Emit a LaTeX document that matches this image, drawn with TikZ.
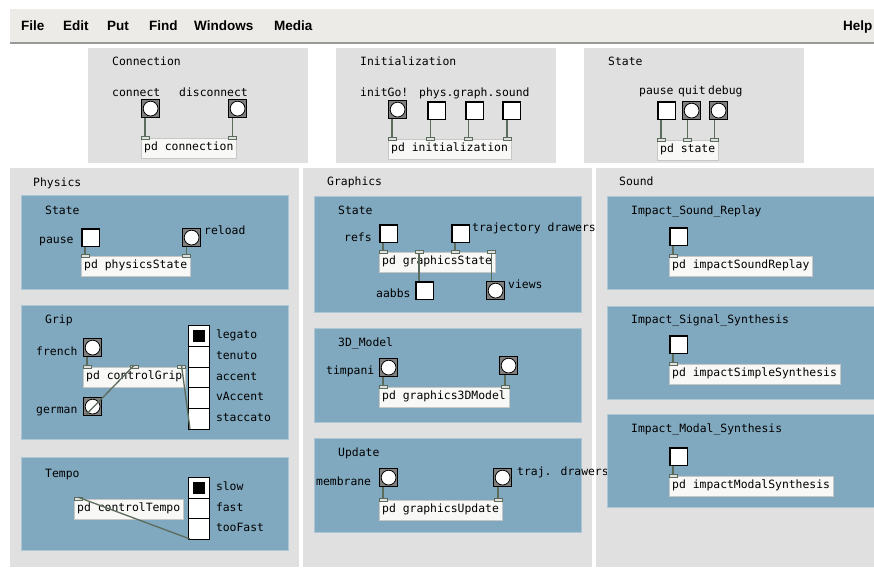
\documentclass[tikz,border=0pt]{standalone}
\usepackage{fontspec}
\usepackage{tikz}
\usetikzlibrary{positioning, calc}
\newfontfamily\pdmono{DejaVu Sans Mono}
\newfontfamily\pdmenu{Liberation Sans}
\definecolor{pd_menu}{RGB}{237,235,231}
\definecolor{pd_panel}{RGB}{224,224,224}
\definecolor{pd_blue}{RGB}{128,168,190}
\definecolor{pd_wire}{RGB}{92,108,92}
\definecolor{pd_box}{RGB}{248,248,246}
\tikzset{
  pdtext/.style={font=\pdmono\fontsize{11.4}{13}\selectfont},
  lbl/.style={pdtext,inner sep=0pt,anchor=base west},
  rlbl/.style={lbl,text height=1.5ex,text depth=.25ex},
  menu/.style={font=\pdmenu\bfseries\fontsize{13.5}{15}\selectfont,inner sep=0pt,anchor=base west},
  canvas/.style={fill=pd_panel},
  subpatch/.style={fill=pd_blue,draw=pd_blue!65!white,line width=.6pt},
  pdobj/.style={pdtext,draw=black!22,fill=pd_box,anchor=north west,inner xsep=3pt,inner ysep=0pt,minimum height=20pt,text height=1.5ex,text depth=.3ex},
  bng/.style={rectangle,anchor=north west,minimum size=18pt,inner sep=0pt,draw=black,line width=1.2pt,fill=black!50,
    path picture={\draw[fill=white,line width=.8pt] (path picture bounding box.center) circle (7.4pt);}},
  tgl/.style={rectangle,anchor=north west,minimum size=18pt,inner sep=0pt,draw=black,line width=.8pt,fill=white,
    path picture={\draw[line width=3.5pt] (path picture bounding box.south west) -- (path picture bounding box.north west) -- (path picture bounding box.north east);}},
  vradio/.style={rectangle,anchor=north west,minimum width=21pt,minimum height=20.8pt,inner sep=0pt,draw=black,line width=.8pt,fill=white},
  radiodot/.style={rectangle,fill=black,minimum size=12pt,inner sep=0pt},
  inlet/.style={rectangle,draw=pd_wire,fill=black!12,minimum width=8pt,minimum height=3pt,inner sep=0pt,line width=.6pt},
  wire/.style={draw=pd_wire,line width=1.3pt},
}
\newcommand{\pdinlets}[2]{%
  \coordinate (#1-l) at ($(#1.north west)+(4pt,0)$);
  \coordinate (#1-r) at ($(#1.north east)+(-4pt,0)$);
  \foreach \k in {1,...,#2}{
    \pgfmathsetmacro{\f}{(\k-1)/max(#2-1,1)}
    \node[inlet] (#1-\k) at ($(#1-l)!\f!(#1-r)$) {};
  }
}

\begin{document}
\begin{tikzpicture}[x=1pt,y=-1pt]
	\useasboundingbox (0,0) rectangle (874,567);
	% menu bar
	\fill[pd_menu] (10,9) rectangle (874,42);
	\draw[black!40,line width=2pt] (10,43) -- (874,43);
	\node[menu] (FILE) at (21,31) {File};
	\node[menu] (EDIT) at (63,31) {Edit};
	\node[menu] (PUT) at (107,31) {Put};
	\node[menu] (FIND) at (149,31) {Find};
	\node[menu] (WINDOWS) at (194,31) {Windows};
	\node[menu] (MEDIA) at (274,31) {Media};
	\node[menu] (HELP) at (843,31) {Help};

	\fill[canvas] (88,48) rectangle (308,163);
	\fill[canvas] (336,48) rectangle (556,163);
	\fill[canvas] (584,48) rectangle (804,163);
	\fill[canvas] (10,168) rectangle (299,567);
	\fill[canvas] (303,168) rectangle (592,567);
	\fill[canvas] (596,168) rectangle (874,567);

	% top row
	\node[lbl] (T_CONN) at (112,66) {Connection};
	\node[lbl] (L_CONNECT) at (112,96) {connect};
	\node[lbl] (L_DISCONNECT) at (179,96) {disconnect};
	\node[bng] (CONNECT) at (141,99) {};
	\node[bng] (DISCONNECT) at (228,99) {};
	\node[pdobj] (CONNECTION) at (141,138) {pd connection};
	\pdinlets{CONNECTION}{2}
	\draw[wire] (CONNECTION-1.north) -- (CONNECTION-1 |- CONNECT.south);
	\draw[wire] (CONNECTION-2.north) -- (CONNECTION-2 |- DISCONNECT.south);

	\node[lbl] (T_INIT) at (360,66) {Initialization};
	\node[lbl] (L_INITGO) at (360,96) {initGo!};
	\node[lbl] (L_PHYS) at (419,96) {phys.};
	\node[lbl] (L_GRAPH) at (453,96) {graph.};
	\node[lbl] (L_SOUND) at (495,96) {sound};
	\node[bng] (INITGO) at (388,100) {};
	\node[tgl] (PHYS) at (427,101) {};
	\node[tgl] (GRAPH) at (465,101) {};
	\node[tgl] (SOUND) at (502,101) {};
	\node[pdobj] (INITIALIZATION) at (388,139) {pd initialization};
	\pdinlets{INITIALIZATION}{4}
	\draw[wire] (INITIALIZATION-1.north) -- (INITIALIZATION-1 |- INITGO.south);
	\draw[wire] (INITIALIZATION-2.north) -- (INITIALIZATION-2 |- PHYS.south);
	\draw[wire] (INITIALIZATION-3.north) -- (INITIALIZATION-3 |- GRAPH.south);
	\draw[wire] (INITIALIZATION-4.north) -- (INITIALIZATION-4 |- SOUND.south);

	\node[lbl] (T_STATE) at (608,66) {State};
	\node[lbl] (L_PAUSE) at (639,95) {pause};
	\node[lbl] (L_QUIT) at (678,95) {quit};
	\node[lbl] (L_DEBUG) at (708,95) {debug};
	\node[tgl] (PAUSE) at (657,101) {};
	\node[bng] (QUIT) at (682,101) {};
	\node[bng] (DEBUG) at (709,101) {};
	\node[pdobj] (STATE) at (657,140) {pd state};
	\pdinlets{STATE}{3}
	\draw[wire] (STATE-1.north) -- (STATE-1 |- PAUSE.south);
	\draw[wire] (STATE-2.north) -- (STATE-2 |- QUIT.south);
	\draw[wire] (STATE-3.north) -- (STATE-3 |- DEBUG.south);

	% physics
	\node[lbl] (T_PHYSICS) at (33,186) {Physics};
	\draw[subpatch] (21,195) rectangle (288,289);
	\draw[subpatch] (21,305) rectangle (288,439);
	\draw[subpatch] (21,457) rectangle (288,550);

	\node[lbl] (T_PSTATE) at (45,214) {State};
	\node[lbl] (L_PPAUSE) at (39,243) {pause};
	\node[tgl] (PPAUSE) at (81,228) {};
	\node[bng] (RELOAD) at (182,228) {};
	\node[lbl] (L_RELOAD) at (204,234) {reload};
	\node[pdobj] (PHYSSTATE) at (81,256) {pd physicsState};
	\pdinlets{PHYSSTATE}{2}
	\draw[wire] (PHYSSTATE-1.north) -- (PHYSSTATE-1 |- PPAUSE.south);
	\draw[wire] (PHYSSTATE-2.north) -- (PHYSSTATE-2 |- RELOAD.south);

	\node[lbl] (T_GRIP) at (45,323) {Grip};
	\node[lbl] (L_FRENCH) at (36,355) {french};
	\node[bng] (FRENCH) at (83,338) {};
	\node[lbl] (L_GERMAN) at (36,413) {german};
	\node[bng] (GERMAN) at (83,397) {};
	\node[pdobj] (GRIP) at (83,367) {pd controlGrip};
	\foreach \s [count=\i] in {legato,tenuto,accent,vAccent,staccato}{
		\node[vradio] (ARTIC-\i) at (188,{325+(\i-1)*20.8}) {};
		\node[rlbl,right=6pt of ARTIC-\i] (L_ARTIC-\i) {\s};
	}
	\node[radiodot] (ARTIC_SEL) at (ARTIC-1) {};
	\pdinlets{GRIP}{3}
	\draw[wire] (GRIP-1.north) -- (GRIP-1 |- FRENCH.south);
	\draw[wire] (GRIP-2.north) -- ([xshift=3pt,yshift=1.5pt]GERMAN.south west);
	\draw[wire] (GRIP-3.north) -- ([xshift=2pt,yshift=1pt]ARTIC-5.south west);

	\node[lbl] (T_TEMPO) at (45,477) {Tempo};
	\node[pdobj] (TEMPO) at (74,499) {pd controlTempo};
	\foreach \s [count=\i] in {slow,fast,tooFast}{
		\node[vradio] (SPEED-\i) at (188,{477+(\i-1)*20.7}) {};
		\node[rlbl,right=6pt of SPEED-\i] (L_SPEED-\i) {\s};
	}
	\node[radiodot] (SPEED_SEL) at (SPEED-1) {};
	\pdinlets{TEMPO}{1}
	\draw[wire] (TEMPO-1.north) -- ([xshift=2pt,yshift=1pt]SPEED-3.south west);

	% graphics
	\node[lbl] (T_GRAPHICS) at (327,185) {Graphics};
	\draw[subpatch] (314,196) rectangle (581,312);
	\draw[subpatch] (314,328) rectangle (581,422);
	\draw[subpatch] (314,438) rectangle (581,532);

	\node[lbl] (T_GSTATE) at (338,214) {State};
	\node[lbl] (L_REFS) at (344,241) {refs};
	\node[tgl] (REFS) at (379,224) {};
	\node[tgl] (TRAJ) at (451,224) {};
	\node[lbl] (L_TRAJ) at (472,231) {trajectory drawers};
	\node[pdobj] (GSTATE) at (379,252) {pd graphicsState};
	\node[lbl] (L_AABBS) at (376,297) {aabbs};
	\node[tgl] (AABBS) at (415,281) {};
	\node[bng] (VIEWS) at (486,281) {};
	\node[lbl] (L_VIEWS) at (508,288) {views};
	\pdinlets{GSTATE}{4}
	\draw[wire] (GSTATE-1.north) -- (GSTATE-1 |- REFS.south);
	\draw[wire] (GSTATE-3.north) -- (GSTATE-3 |- TRAJ.south);
	\draw[wire] (GSTATE-2.south) -- (GSTATE-2 |- AABBS.north);
	\draw[wire] (GSTATE-4.south) -- (GSTATE-4 |- VIEWS.north);

	\node[lbl] (T_3D) at (338,346) {3D\_Model};
	\node[lbl] (L_TIMPANI) at (326,374) {timpani};
	\node[bng] (TIMPANI) at (379,358) {};
	\node[bng] (MODEL_B) at (499,356) {};
	\node[pdobj] (G3DMODEL) at (379,387) {pd graphics3DModel};
	\pdinlets{G3DMODEL}{2}
	\draw[wire] (G3DMODEL-1.north) -- (G3DMODEL-1 |- TIMPANI.south);
	\draw[wire] (G3DMODEL-2.north) -- (G3DMODEL-2 |- MODEL_B.south);

	\node[lbl] (T_UPDATE) at (338,456) {Update};
	\node[lbl] (L_MEMBRANE) at (316,485) {membrane};
	\node[bng] (MEMBRANE) at (379,468) {};
	\node[bng] (TRAJDRAW) at (493,468) {};
	\node[lbl] (L_TRAJDRAW) at (517,475) {traj. drawers};
	\node[pdobj] (GUPDATE) at (379,500) {pd graphicsUpdate};
	\pdinlets{GUPDATE}{2}
	\draw[wire] (GUPDATE-1.north) -- (GUPDATE-1 |- MEMBRANE.south);
	\draw[wire] (GUPDATE-2.north) -- (GUPDATE-2 |- TRAJDRAW.south);

	% sound
	\node[lbl] (T_SOUNDS) at (619,185) {Sound};
	\draw[subpatch] (607,196) rectangle (874,289);
	\draw[subpatch] (607,306) rectangle (874,399);
	\draw[subpatch] (607,414) rectangle (874,507);

	\node[lbl] (T_REPLAY) at (631,214) {Impact\_Sound\_Replay};
	\node[tgl] (REPLAY) at (669,227) {};
	\node[pdobj] (SNDREPLAY) at (669,256) {pd impactSoundReplay};
	\pdinlets{SNDREPLAY}{1}
	\draw[wire] (SNDREPLAY-1.north) -- (SNDREPLAY-1 |- REPLAY.south);

	\node[lbl] (T_SIGNAL) at (631,323) {Impact\_Signal\_Synthesis};
	\node[tgl] (SIGNAL) at (669,335) {};
	\node[pdobj] (SIMPLESYN) at (669,364) {pd impactSimpleSynthesis};
	\pdinlets{SIMPLESYN}{1}
	\draw[wire] (SIMPLESYN-1.north) -- (SIMPLESYN-1 |- SIGNAL.south);

	\node[lbl] (T_MODAL) at (631,432) {Impact\_Modal\_Synthesis};
	\node[tgl] (MODAL) at (669,447) {};
	\node[pdobj] (MODALSYN) at (669,476) {pd impactModalSynthesis};
	\pdinlets{MODALSYN}{1}
	\draw[wire] (MODALSYN-1.north) -- (MODALSYN-1 |- MODAL.south);
\end{tikzpicture}
\end{document}
